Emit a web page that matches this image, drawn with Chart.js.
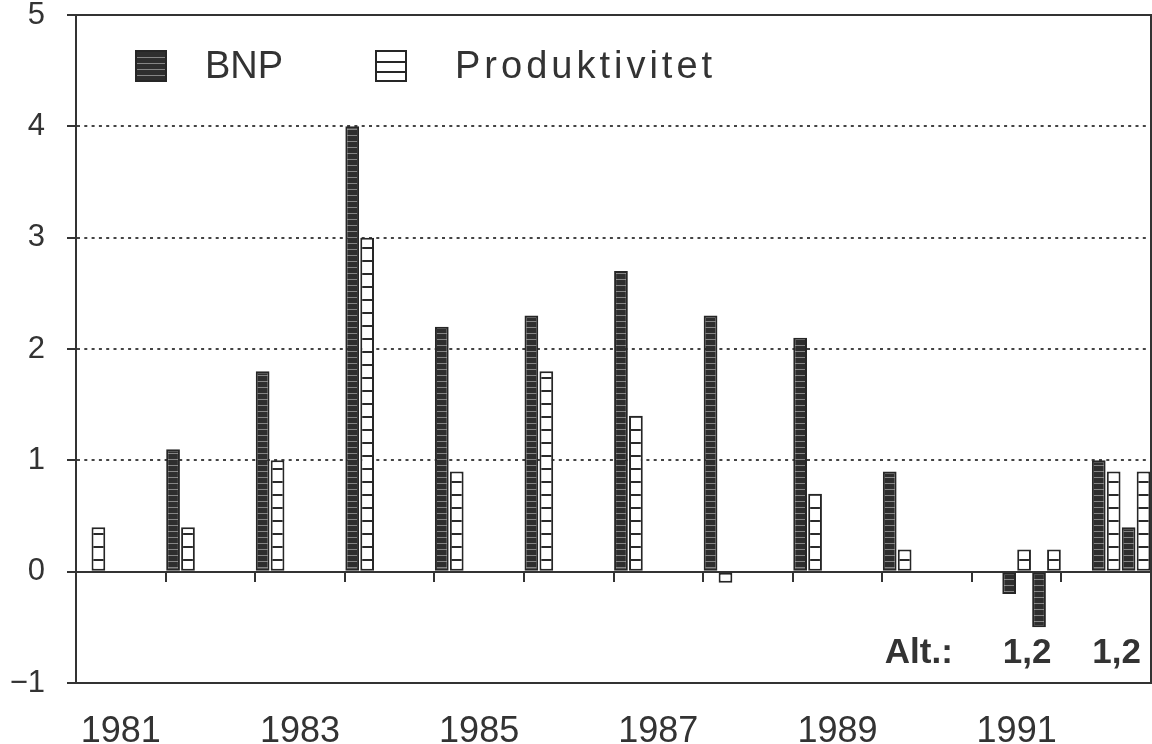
<!DOCTYPE html>
<html>
<head>
<meta charset="utf-8">
<script src="https://cdn.jsdelivr.net/npm/chart.js@4.4.1/dist/chart.umd.min.js"></script>
<style>
html,body{margin:0;padding:0;background:#fff;}
#wrap{width:1152px;height:744px;position:relative;}
canvas{display:block;}
</style>
</head>
<body>
<div id="wrap"><canvas id="c" width="1152" height="744"></canvas></div>
<script>
// ---- data ----
const years = ['1981','1982','1983','1984','1985','1986','1987','1988','1989','1990','1991','1992'];
const tickYears = ['1981','1983','1985','1987','1989','1991'];
const yTicks = [-1, 0, 1, 2, 3, 4, 5];
const bnp           = [null, 1.1, 1.8, 4.0, 2.2, 2.3, 2.7, 2.3, 2.1, 0.9, null, null];
const produktivitet = [0.4,  0.4, 1.0, 3.0, 0.9, 1.8, 1.4, -0.1, 0.7, 0.2, null, null];
const bnpAlt1  = [null, null, null, null, null, null, null, null, null, null, -0.2, 1.0];
const prodAlt1 = [null, null, null, null, null, null, null, null, null, null,  0.2, 0.9];
const bnpAlt2  = [null, null, null, null, null, null, null, null, null, null, -0.5, 0.4];
const prodAlt2 = [null, null, null, null, null, null, null, null, null, null,  0.2, 0.9];
const seriesNames = ['BNP', 'Produktivitet'];
const altTitle = 'Alt.:';
const altLabels = ['1,2', '1,2'];
const altYears = ['1991', '1992'];

// ---- styles ----
const INK = '#333333';
const FONT = "'Liberation Sans', Arial, sans-serif";

function makePattern(kind) {
  const c = document.createElement('canvas');
  const g = c.getContext('2d');
  if (kind === 'bnp') {
    c.width = 6; c.height = 6;
    g.fillStyle = '#2e2e2e'; g.fillRect(0, 0, 6, 6);
    g.fillStyle = '#858585'; g.fillRect(0, 3, 6, 1);
  } else {
    c.width = 8; c.height = 13;
    g.fillStyle = '#ffffff'; g.fillRect(0, 0, 8, 13);
    g.fillStyle = '#2a2a2a'; g.fillRect(0, 0, 8, 2);
  }
  return document.createElement('canvas').getContext('2d').createPattern(c, 'repeat');
}
const bnpFill = makePattern('bnp');
const prodFill = makePattern('prod');

function ds(label, data, isBnp) {
  return {
    label: label,
    data: data,
    xAxisID: 'x',
    yAxisID: 'y',
    backgroundColor: isBnp ? bnpFill : prodFill,
    borderColor: '#262626',
    borderWidth: 2,
    borderSkipped: false,
    barPercentage: 0.92,
    categoryPercentage: 1.0
  };
}

const frameAndText = {
  id: 'frameAndText',
  afterDraw(chart) {
    const {ctx, chartArea: a, scales} = chart;
    const x = scales.x;
    ctx.save();
    // frame
    ctx.strokeStyle = INK; ctx.lineWidth = 2; ctx.setLineDash([]);
    ctx.strokeRect(a.left, a.top, a.right - a.left, a.bottom - a.top);

    // legend
    const items = [
      {label: seriesNames[0], fill: bnpFill, bx: a.left + 59, tx: a.left + 129, sp: '0px'},
      {label: seriesNames[1], fill: prodFill, bx: a.left + 299, tx: a.left + 379, sp: '4px'}
    ];
    items.forEach(it => {
      const by = a.top + 35;
      ctx.fillStyle = it.fill;
      ctx.fillRect(it.bx, by, 32, 32);
      ctx.strokeStyle = '#262626'; ctx.lineWidth = 2;
      ctx.strokeRect(it.bx + 1, by + 1, 30, 30);
      if (it.fill === prodFill) {
        ctx.fillStyle = '#ffffff';
        ctx.fillRect(it.bx + 2, by + 2, 28, 28);
        ctx.fillStyle = '#262626';
        ctx.fillRect(it.bx, by + 11, 32, 2);
        ctx.fillRect(it.bx, by + 21, 32, 2);
      }
      ctx.fillStyle = INK;
      ctx.font = '38px ' + FONT;
      ctx.textAlign = 'left';
      ctx.textBaseline = 'alphabetic';
      try { ctx.letterSpacing = it.sp; } catch (e) {}
      ctx.fillText(it.label, it.tx, a.top + 63);
      try { ctx.letterSpacing = '0px'; } catch (e) {}
    });

    // alternative labels
    const catW = (x.right - x.left) / years.length;
    const slot = catW / 6;
    ctx.font = 'bold 35px ' + FONT;
    ctx.fillStyle = INK;
    ctx.textBaseline = 'alphabetic';
    const i0 = years.indexOf(altYears[0]);
    const left0 = x.getPixelForValue(i0) - catW / 2;
    ctx.textAlign = 'right';
    ctx.fillText(altTitle, left0 - 19, a.bottom - 20);
    ctx.textAlign = 'left';
    altYears.forEach((yr, k) => {
      const i = years.indexOf(yr);
      const left = x.getPixelForValue(i) - catW / 2;
      ctx.fillText(altLabels[k], left + 2 * slot + 1, a.bottom - 20);
    });
    ctx.restore();
  }
};

new Chart(document.getElementById('c'), {
  type: 'bar',
  data: {
    labels: years,
    datasets: [
      ds(seriesNames[0], bnp, true),
      ds(seriesNames[1], produktivitet, false),
      ds(seriesNames[0] + ' alt. 1', bnpAlt1, true),
      ds(seriesNames[1] + ' alt. 1', prodAlt1, false),
      ds(seriesNames[0] + ' alt. 2', bnpAlt2, true),
      ds(seriesNames[1] + ' alt. 2', prodAlt2, false)
    ]
  },
  options: {
    responsive: false,
    devicePixelRatio: 1,
    animation: false,
    layout: {padding: {top: 15, right: 1, left: 0, bottom: 0}},
    plugins: {legend: {display: false}, tooltip: {enabled: false}},
    scales: {
      x: {
        type: 'category',
        position: 'bottom',
        offset: true,
        grid: {display: false, drawTicks: false},
        border: {display: true, color: INK, width: 2},
        ticks: {
          autoSkip: false, maxRotation: 0, minRotation: 0, padding: 27,
          color: INK, font: {family: FONT, size: 36},
          callback: (v, i) => tickYears.includes(years[i]) ? years[i] : ''
        },
        afterFit: s => { s.height = 61; s.paddingLeft = 0; s.paddingRight = 0; }
      },
      x2: {
        type: 'category',
        position: {y: 0},
        offset: true,
        grid: {display: true, drawOnChartArea: false, drawTicks: true, tickLength: 9,
               color: INK, lineWidth: 2, offset: true, tickBorderDash: []},
        ticks: {display: false},
        border: {display: true, color: INK, width: 2}
      },
      y: {
        type: 'linear',
        min: yTicks[0], max: yTicks[yTicks.length - 1],
        afterBuildTicks: s => { s.ticks = yTicks.map(v => ({value: v})); },
        ticks: {
          padding: 22, color: INK, font: {family: FONT, size: 31},
          callback: v => v < 0 ? '\u2212' + Math.abs(v) : String(v)
        },
        grid: {
          color: c => (c.tick && c.tick.value > 0 && c.tick.value < 5) ? '#444444' : 'rgba(0,0,0,0)',
          lineWidth: 2, tickLength: 9, tickColor: INK, tickWidth: 2, tickBorderDash: []
        },
        border: {display: true, color: INK, width: 2, dash: [3, 4.3]},
        afterFit: s => { s.width = 76; s.paddingTop = 0; s.paddingBottom = 0; }
      }
    }
  },
  plugins: [frameAndText]
});
</script>
</body>
</html>
